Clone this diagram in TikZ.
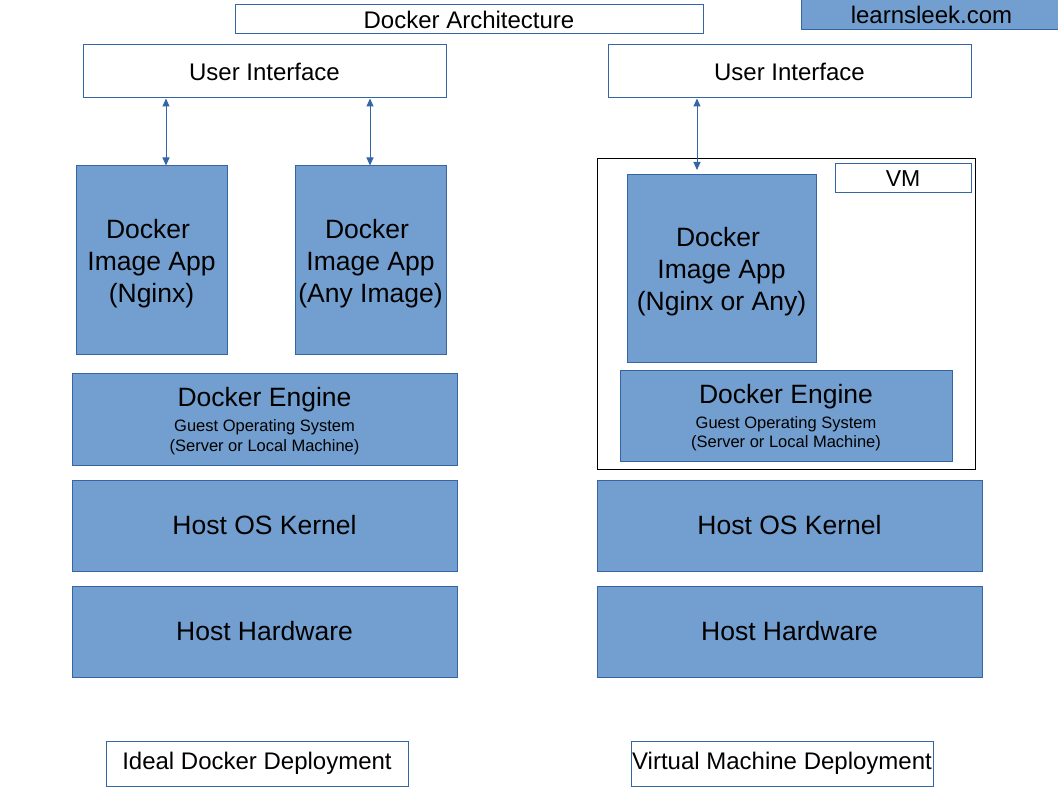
\documentclass[tikz,border=0pt]{standalone}
\usepackage{fontspec}
\setmainfont{Liberation Sans}
\usetikzlibrary{arrows.meta}
\definecolor{boxblue}{HTML}{729FCF}
\definecolor{edgeblue}{HTML}{3465A4}
\begin{document}
\begin{tikzpicture}[x=1pt,y=-1pt]
        \tikzstyle{bluebox}=[rectangle, draw=edgeblue, fill=boxblue, line width=1pt, align=center, inner sep=0pt, font=\fontsize{26.5}{32}\selectfont]
        \tikzstyle{whitebox}=[rectangle, draw=edgeblue, fill=white, line width=1pt, align=center, inner sep=0pt, font=\fontsize{24}{28}\selectfont]
        \tikzstyle{layer}=[bluebox, minimum width=385pt, minimum height=91pt]
        \tikzstyle{appbox}=[bluebox, minimum width=151pt, minimum height=189pt, text depth=0pt]
        \tikzstyle{enginebox}=[bluebox, font=\fontsize{16.5}{19.5}\selectfont, text depth=0pt]
        \tikzstyle{link}=[{Triangle[length=8pt,width=7pt]}-{Triangle[length=8pt,width=7pt]}, draw=edgeblue, line width=1pt]
        \useasboundingbox (0,0) rectangle (1058,794);
        \node[whitebox, minimum width=468pt, minimum height=29pt] (title) at (469,19.5) {Docker Architecture};
        \node[bluebox, minimum width=261pt, minimum height=30pt, font=\fontsize{24}{28}\selectfont] (site) at (931.5,15) {learnsleek.com};
        % docker side
        \node[whitebox, minimum width=363pt, minimum height=53pt] (ui1) at (264.5,71.5) {User Interface};
        \node[appbox] (app1) at (151.5,260.5) {Docker\hspace*{7pt}\\Image App\\(Nginx)};
        \node[appbox] (app2) at (370.5,260.5) {Docker\hspace*{7pt}\\Image App\\(Any Image)};
        \node[layer, enginebox] (eng1) at (264.5,419.5) {{\fontsize{26.5}{32}\selectfont Docker Engine}\\[5.5pt]Guest Operating System\\(Server or Local Machine)};
        \coordinate (a1) at (166,0);
        \coordinate (a2) at (370,0);
        \draw[link] (ui1.south -| a1) -- (app1.north -| a1);
        \draw[link] (ui1.south -| a2) -- (app2.north -| a2);
        % vm side
        \node[whitebox, minimum width=363pt, minimum height=53pt] (ui2) at (789.5,71.5) {User Interface};
        \node[rectangle, draw=black, line width=1pt, minimum width=378pt, minimum height=310pt] (vm) at (786,314) {};
        \node[whitebox, minimum width=136pt, minimum height=29pt, font=\fontsize{23}{28}\selectfont] (vmlabel) at (903,178.5) {VM};
        \node[appbox, minimum width=189pt, minimum height=188pt] (app3) at (721.5,269) {Docker\hspace*{7pt}\\Image App\\(Nginx or Any)};
        \node[enginebox, minimum width=332pt, minimum height=90pt] (eng2) at (786,416) {{\fontsize{26.5}{32}\selectfont Docker Engine}\\[5.5pt]Guest Operating System\\(Server or Local Machine)};
        \coordinate (a3) at (697,170);
        \draw[link] (ui2.south -| a3) -- (a3);
        % host layers
        \foreach \c/\n in {264.5/1, 789.5/2} {
            \node[layer] (kern\n) at (\c,525.5) {Host OS Kernel};
            \node[layer] (hw\n) at (\c,631.5) {Host Hardware};
        }
        \node[whitebox, minimum width=302pt, minimum height=45pt] (lab1) at (257,763.5) {Ideal Docker Deployment};
        \node[whitebox, minimum width=302pt, minimum height=45pt] (lab2) at (782,763.5) {Virtual Machine Deployment};
      \end{tikzpicture}
\end{document}
